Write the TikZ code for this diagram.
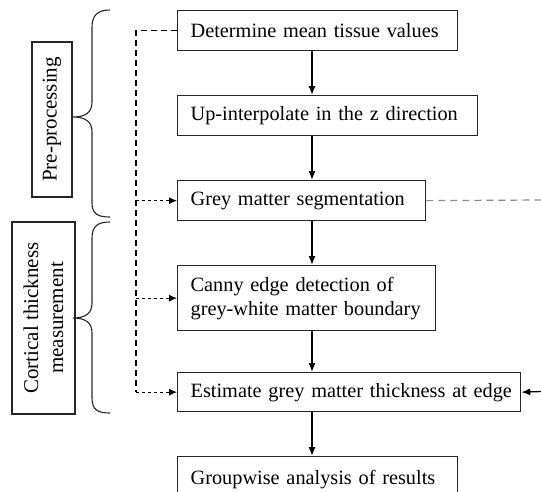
\documentclass[tikz,border=0pt]{standalone}
\usepackage{fontspec}
\setmainfont{Liberation Serif}
\usetikzlibrary{arrows.meta}
\begin{document}
\begin{tikzpicture}[x=1pt,y=-1pt,
  stepbox/.style={draw=black!85, line width=1.3pt, anchor=north west,
    inner xsep=13pt, inner ysep=0pt, align=left,
    font=\fontsize{20.3}{24}\selectfont},
  phasebox/.style={draw=black!85, line width=1.3pt, rotate=90, inner sep=0pt,
    align=center, font=\fontsize{21}{25}\selectfont},
  flow/.style={line width=1.3pt, -{Latex[length=9pt,width=7pt]}},
  feed/.style={line width=1.1pt, dash pattern=on 6pt off 4pt},
  feedarrow/.style={line width=1pt, dash pattern=on 3pt off 3pt,
    -{Latex[length=8pt,width=7pt]}},
  brace/.style={line width=1.1pt, black!85}
]
\useasboundingbox (0,0) rectangle (541,491);

% processing steps
\node[stepbox, minimum height=40pt, text width=254pt] (b1) at (177,10)
  {\mbox{Determine mean tissue values}};
\node[stepbox, minimum height=40pt, text width=274pt] (b2) at (177,95)
  {\mbox{Up-interpolate in the z direction}};
\node[stepbox, minimum height=40pt, text width=222pt] (b3) at (177,180)
  {\mbox{Grey matter segmentation}};
\node[stepbox, minimum height=65pt, text width=232pt] (b4) at (177,265)
  {\mbox{Canny edge detection of}\\\mbox{grey-white matter boundary}};
\node[stepbox, minimum height=39pt, text width=317pt] (b5) at (177,372)
  {\mbox{Estimate grey matter thickness at edge}};
\node[stepbox, minimum height=46pt, text width=254pt] (b6) at (177,456)
  {\mbox{Groupwise analysis of results}};

% main flow
\coordinate (ax) at (312,0);
\draw[flow] (b1.south -| ax) -- (b2.north -| ax);
\draw[flow] (b2.south -| ax) -- (b3.north -| ax);
\draw[flow] (b3.south -| ax) -- (b4.north -| ax);
\draw[flow] (b4.south -| ax) -- (b5.north -| ax);
\draw[flow] (b5.south -| ax) -- (b6.north -| ax);

% feedback from the tissue values
\coordinate (dl) at (136,0);
\draw[feed] (b1.west) -- (b1.west -| dl) -- (b5.west -| dl);
\draw[feedarrow] (b3.west -| dl) -- (b3.west);
\draw[feedarrow] (b4.west -| dl) -- (b4.west);
\draw[feedarrow] (b5.west -| dl) -- (b5.west);

% connections leaving to the right
\coordinate (rt3) at (541,200);
\coordinate (rt5) at (541,391.5);
\draw[line width=1.2pt, black!45, dash pattern=on 7pt off 5pt] (b3.east) -- (rt3);
\draw[flow] (rt5) -- (b5.east);

% braces
\draw[brace] (110,10) .. controls (98,10) and (92,15) .. (92,27)
  -- (92,102) .. controls (92,112) and (86,117) .. (73,117)
  .. controls (86,117) and (92,122) .. (92,132)
  -- (92,203) .. controls (92,214) and (98,217) .. (110,217);
\draw[brace] (110,222) .. controls (98,222) and (92,226) .. (92,238)
  -- (92,303) .. controls (92,313) and (86,318) .. (73,318)
  .. controls (86,318) and (92,323) .. (92,333)
  -- (92,398) .. controls (92,410) and (98,413) .. (110,413);

% phase labels
\node[phasebox, minimum width=155pt, minimum height=40pt] (pre) at (52,119.5)
  {Pre-processing};
\node[phasebox, minimum width=192pt, minimum height=63pt] (cort) at (43.5,318)
  {Cortical thickness\\measurement};
\end{tikzpicture}
\end{document}
